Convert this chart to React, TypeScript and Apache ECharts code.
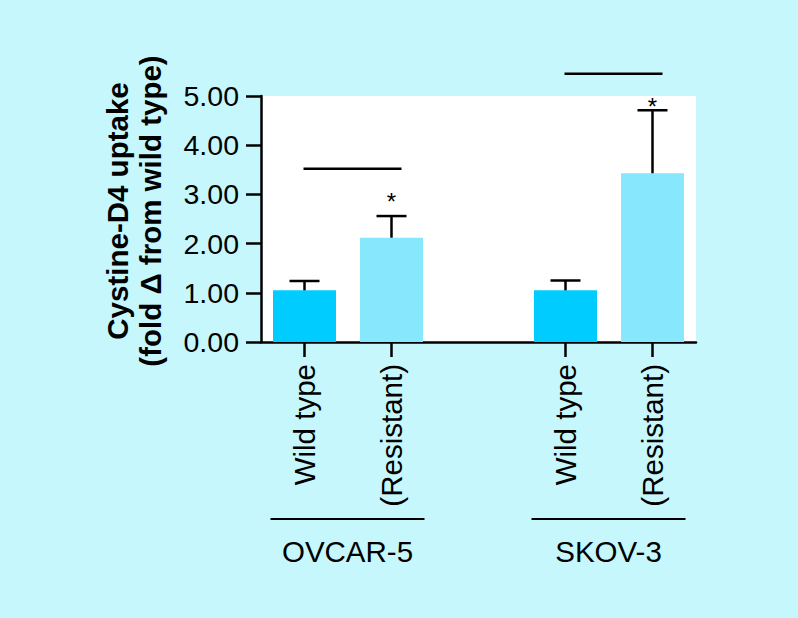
import React, { useEffect, useRef } from "react";
import * as echarts from "echarts";

// ---- Data ----
const categories = ["Wild type", "(Resistant)", "", "Wild type", "(Resistant)"];
const means = [1.05, 2.12, null, 1.05, 3.43];
const errTops = [1.24, 2.56, null, 1.25, 4.71];
const barColors = ["#00ccff", "#86e7fd", "#ffffff", "#00ccff", "#86e7fd"];
const yTicks = [0, 1, 2, 3, 4, 5];

const sigFrom = [0, 3];
const sigTo = [1, 4];
const sigHeights = [3.52, 5.45];

const starIndex = [1, 4];
const starHeights = [2.97, 4.9];

const groupNames = ["OVCAR-5", "SKOV-3"];
const groupFrom = [0, 3];
const groupTo = [1, 4];

const FONT = "Liberation Sans";

export default function App() {
  const ref = useRef<HTMLDivElement>(null);

  useEffect(() => {
    if (!ref.current) return;
    const chart = echarts.init(ref.current, null, { renderer: "svg" });

    const barData = means.map((v, i) =>
      v == null ? "-" : { value: v, itemStyle: { color: barColors[i] } }
    );
    const errData: number[][] = [];
    means.forEach((m, i) => {
      if (m != null && errTops[i] != null) errData.push([i, m, errTops[i] as number]);
    });
    const sigData = sigFrom.map((f, i) => [f, sigTo[i], sigHeights[i]]);
    const starData = starIndex.map((x, i) => [x, starHeights[i]]);
    const groupData = groupFrom.map((f, i) => [f, groupTo[i], 0]);

    const LW = 2.5;

    const option: any = {
      animation: false,
      backgroundColor: "#c6f7fd",
      grid: {
        left: 261,
        right: 102,
        top: 96,
        bottom: 276,
        show: true,
        backgroundColor: "#ffffff",
        borderWidth: 0,
      },
      graphic: [
        {
          type: "text",
          x: 134,
          y: 211,
          rotation: Math.PI / 2,
          style: {
            text: "Cystine-D4 uptake\n(fold Δ from wild type)",
            fontSize: 29.5,
            fontWeight: "bold",
            fontFamily: FONT,
            align: "center",
            verticalAlign: "middle",
            lineHeight: 33,
            fill: "#000",
          },
        },
      ],
      xAxis: {
        type: "category",
        data: categories,
        boundaryGap: true,
        axisLine: { show: true, lineStyle: { color: "#000", width: LW } },
        axisTick: {
          show: true,
          alignWithLabel: true,
          length: 15,
          interval: (idx: number) => categories[idx] !== "",
          lineStyle: { color: "#000", width: LW },
        },
        axisLabel: {
          interval: 0,
          rotate: 90,
          margin: 22,
          fontSize: 29.5,
          fontFamily: FONT,
          color: "#000",
        },
        splitLine: { show: false },
      },
      yAxis: {
        type: "value",
        min: yTicks[0],
        max: yTicks[yTicks.length - 1],
        interval: 1,
        axisLine: { show: true, lineStyle: { color: "#000", width: LW } },
        axisTick: { show: true, length: 15, lineStyle: { color: "#000", width: LW } },
        axisLabel: {
          margin: 22,
          fontSize: 28.5,
          fontFamily: FONT,
          color: "#000",
          formatter: (v: number) => v.toFixed(2),
        },
        splitLine: { show: false },
      },
      series: [
        {
          type: "bar",
          data: barData,
          barWidth: 63,
          z: 2,
        },
        {
          type: "custom",
          data: errData,
          clip: false,
          z: 3,
          renderItem: (params: any, api: any) => {
            const x = api.value(0);
            const p0 = api.coord([x, api.value(1)]);
            const p1 = api.coord([x, api.value(2)]);
            const st = { stroke: "#000", lineWidth: LW };
            return {
              type: "group",
              children: [
                { type: "line", shape: { x1: p0[0], y1: p0[1], x2: p1[0], y2: p1[1] }, style: st },
                { type: "line", shape: { x1: p1[0] - 15, y1: p1[1], x2: p1[0] + 15, y2: p1[1] }, style: st },
              ],
            };
          },
        },
        {
          type: "custom",
          data: sigData,
          clip: false,
          z: 3,
          renderItem: (params: any, api: any) => {
            const a = api.coord([api.value(0), api.value(2)]);
            const b = api.coord([api.value(1), api.value(2)]);
            return {
              type: "line",
              shape: { x1: a[0] - 1, y1: a[1], x2: b[0] + 10, y2: b[1] },
              style: { stroke: "#000", lineWidth: LW },
            };
          },
        },
        {
          type: "custom",
          data: starData,
          clip: false,
          z: 3,
          renderItem: (params: any, api: any) => {
            const p = api.coord([api.value(0), api.value(1)]);
            return {
              type: "text",
              x: p[0],
              y: p[1] + 6,
              style: {
                text: "*",
                fontSize: 24,
                fontFamily: FONT,
                align: "center",
                verticalAlign: "middle",
                fill: "#000",
              },
            };
          },
        },
        {
          type: "custom",
          data: groupData,
          clip: false,
          z: 3,
          renderItem: (params: any, api: any) => {
            const a = api.coord([api.value(0), api.value(2)]);
            const b = api.coord([api.value(1), api.value(2)]);
            const lineY = a[1] + 177;
            const x1 = a[0] - 34;
            const x2 = b[0] + 33;
            return {
              type: "group",
              children: [
                {
                  type: "line",
                  shape: { x1, y1: lineY, x2, y2: lineY },
                  style: { stroke: "#000", lineWidth: 2 },
                },
                {
                  type: "text",
                  x: (x1 + x2) / 2,
                  y: a[1] + 209,
                  style: {
                    text: groupNames[params.dataIndex],
                    fontSize: 29.5,
                    fontFamily: FONT,
                    align: "center",
                    verticalAlign: "middle",
                    fill: "#000",
                  },
                },
              ],
            };
          },
        },
      ],
    };

    chart.setOption(option);
    return () => chart.dispose();
  }, []);

  return (
    <div
      ref={ref}
      style={{ position: "fixed", left: 0, top: 0, width: 798, height: 618 }}
    />
  );
}
